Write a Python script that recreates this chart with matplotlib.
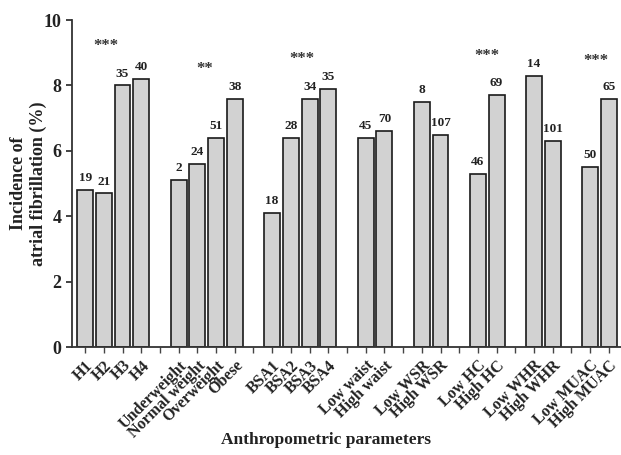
import matplotlib
matplotlib.use('Agg')
import matplotlib.pyplot as plt
import numpy as np

# data
groups = [
    ['H1', 'H2', 'H3', 'H4'],
    ['Underweight', 'Normal weight', 'Overweight', 'Obese'],
    ['BSA1', 'BSA2', 'BSA3', 'BSA4'],
    ['Low waist', 'High waist'],
    ['Low WSR', 'High WSR'],
    ['Low HC', 'High HC'],
    ['Low WHR', 'High WHR'],
    ['Low MUAC', 'High MUAC'],
]
incidence = [
    [4.8, 4.7, 8.0, 8.2],
    [5.1, 5.6, 6.4, 7.6],
    [4.1, 6.4, 7.6, 7.9],
    [6.4, 6.6],
    [7.5, 6.5],
    [5.3, 7.7],
    [8.3, 6.3],
    [5.5, 7.6],
]
counts = [
    [19, 21, 35, 40],
    [2, 24, 51, 38],
    [18, 28, 34, 35],
    [45, 70],
    [8, 107],
    [46, 69],
    [14, 101],
    [50, 65],
]
# significance marks per group (None = no mark), with height and offset within group
stars = ['***', '**', '***', None, None, '***', None, '***']
star_y = [9.2, 8.5, 8.8, None, None, 8.9, None, 8.75]
star_off = [1.1, 1.4, 1.6, 0, 0, 0.5, 0, 0.3]

plt.rcParams['font.family'] = ['Liberation Serif', 'DejaVu Serif']
plt.rcParams['font.weight'] = 'bold'

fig = plt.figure(figsize=(6.21, 4.55), dpi=100)
ax = fig.add_axes([0.116, 0.237, 0.884, 0.719])

xpos = []
vals = []
ns = []
ticklabels = []
pos = 0
for gi, g in enumerate(groups):
    start = pos
    for j, name in enumerate(g):
        xpos.append(pos)
        vals.append(incidence[gi][j])
        ns.append(counts[gi][j])
        ticklabels.append(name)
        pos += 1
    if stars[gi]:
        ax.text(start + star_off[gi], star_y[gi], stars[gi], ha='center', va='center',
                fontsize=12, color='#333333')
    if gi < len(groups) - 1:
        ticklabels.append('')
        pos += 1

ax.bar(xpos, vals, width=0.85, color='#d2d2d2', edgecolor='#1a1a1a', linewidth=1.2)
for x, v, n in zip(xpos, vals, ns):
    ax.text(x, v + 0.18, str(n), ha='center', va='bottom', fontsize=9.5, color='#222222')

ax.set_xticks(np.arange(len(ticklabels)))
ax.set_xticklabels(ticklabels, rotation=45, ha='right', rotation_mode='anchor',
                   fontsize=11.5, color='#222222')
ax.set_xlim(-0.7, len(ticklabels) - 0.35)
ax.set_ylim(0, 10)
ax.set_yticks([0, 2, 4, 6, 8, 10])
ax.tick_params(axis='y', labelsize=13, width=1.2, length=4, colors='#222222')
ax.tick_params(axis='x', width=1.0, length=4, colors='#444444')
for t in ax.get_xticklabels():
    t.set_color('#222222')
for s in ['top', 'right']:
    ax.spines[s].set_visible(False)
for s in ['left', 'bottom']:
    ax.spines[s].set_linewidth(1.3)
    ax.spines[s].set_color('#333333')

ax.set_ylabel('Incidence of\natrial fibrillation (%)', fontsize=13, fontweight='bold',
              color='#222222')
ax.yaxis.set_label_coords(-0.045, 0.5)
fig.text(0.525, 0.025, 'Anthropometric parameters', ha='center', fontsize=12.5,
         fontweight='bold', color='#222222')

fig.savefig('out.png', dpi=100)
